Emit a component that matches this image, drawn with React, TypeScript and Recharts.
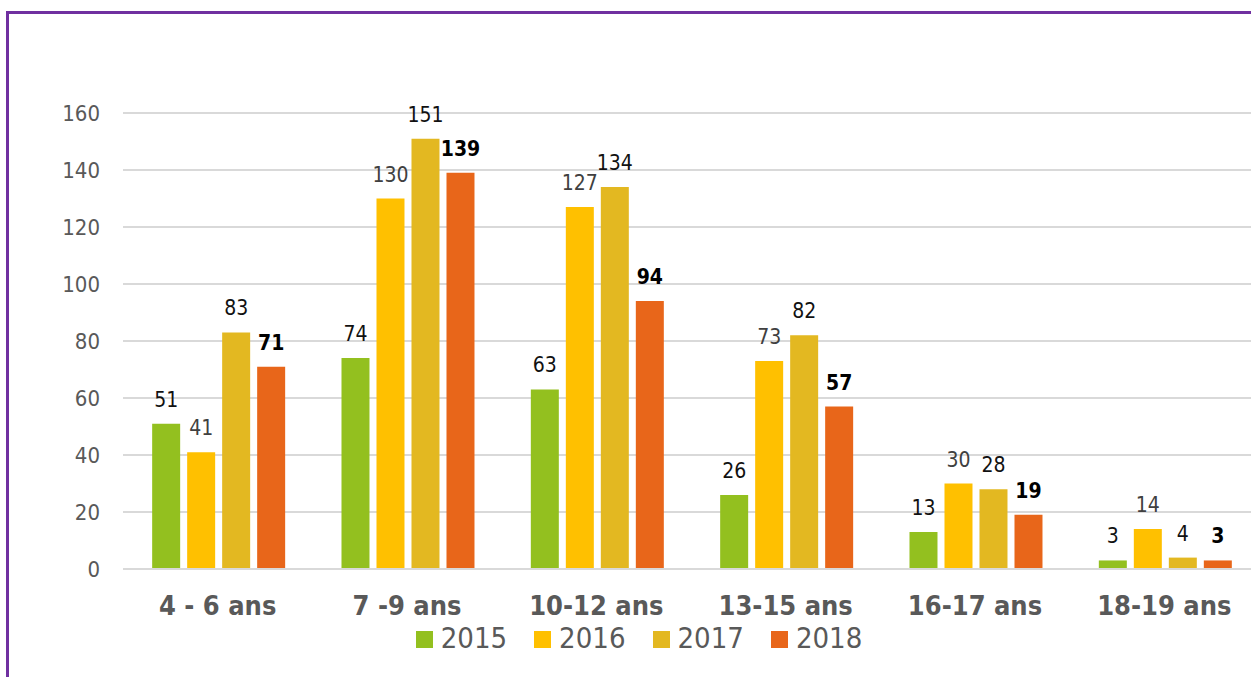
import React from 'react';
import { BarChart, Bar, XAxis, YAxis, CartesianGrid, Legend, LabelList } from 'recharts';

const categories = ['4 - 6 ans', '7 -9 ans', '10-12 ans', '13-15 ans', '16-17 ans', '18-19 ans'];
const values2015 = [51, 74, 63, 26, 13, 3];
const values2016 = [41, 130, 127, 73, 30, 14];
const values2017 = [83, 151, 134, 82, 28, 4];
const values2018 = [71, 139, 94, 57, 19, 3];
const yTicks = [0, 20, 40, 60, 80, 100, 120, 140, 160];
const seriesNames = ['2015', '2016', '2017', '2018'];

const seriesColors = ['#93C01F', '#FFC000', '#E3B821', '#E8661A'];
const labelColors = ['#111111', '#404040', '#111111', '#000000'];
const labelWeights = ['normal', 'normal', 'normal', 'bold'];

const FONT = '"DejaVu Sans Condensed", "DejaVu Sans", sans-serif';

const data = categories.map((c, i) => ({
  cat: c,
  s2015: values2015[i],
  s2016: values2016[i],
  s2017: values2017[i],
  s2018: values2018[i],
}));
const keys = ['s2015', 's2016', 's2017', 's2018'];

const LegendContent = () => (
  <div
    style={{
      display: 'flex',
      justifyContent: 'center',
      alignItems: 'center',
      height: 36,
      paddingLeft: 19,
      fontFamily: FONT,
      fontSize: 29,
      color: '#595959',
    }}
  >
    {seriesNames.map((n, i) => (
      <div key={n} style={{ display: 'flex', alignItems: 'center', marginRight: i < 3 ? 27 : 0 }}>
        <span style={{ width: 17, height: 17, background: seriesColors[i], display: 'inline-block', marginRight: 8, marginTop: 3 }} />
        <span>{n}</span>
      </div>
    ))}
  </div>
);

export default function App() {
  return (
    <div style={{ position: 'absolute', left: 0, top: 0, width: 1251, height: 677, overflow: 'hidden', background: '#fff' }}>
      <div
        style={{
          position: 'absolute',
          left: 6,
          top: 11,
          width: 1400,
          height: 800,
          borderLeft: '3px solid #7030A0',
          borderTop: '3px solid #7030A0',
        }}
      />
      <div style={{ position: 'absolute', left: 0, top: 0 }}>
        <BarChart
          width={1267}
          height={677}
          data={data}
          margin={{ top: 113, right: 8, left: 0, bottom: 21 }}
          barCategoryGap="15.4%"
          barGap={7}
        >
          <CartesianGrid vertical={false} stroke="#d9d9d9" strokeWidth={2} />
          <XAxis
            dataKey="cat"
            height={51}
            tickSize={0}
            tickMargin={27}
            axisLine={{ stroke: '#d9d9d9', strokeWidth: 2 }}
            tickLine={false}
            tick={{ fill: '#595959', fontSize: 27, fontWeight: 'bold', fontFamily: FONT }}
            interval={0}
          />
          <YAxis
            width={123}
            domain={[0, 160]}
            ticks={yTicks}
            tickSize={0}
            tickMargin={23}
            axisLine={false}
            tickLine={false}
            tick={{ fill: '#595959', fontSize: 22, fontFamily: FONT }}
          />
          <Legend verticalAlign="bottom" content={<LegendContent />} />
          {keys.map((k, i) => (
            <Bar key={k} dataKey={k} name={seriesNames[i]} fill={seriesColors[i]} isAnimationActive={false}>
              <LabelList
                dataKey={k}
                position="top"
                offset={17}
                fill={labelColors[i]}
                style={{ fontSize: 21, fontFamily: FONT, fontWeight: labelWeights[i] as any }}
              />
            </Bar>
          ))}
        </BarChart>
      </div>
    </div>
  );
}
